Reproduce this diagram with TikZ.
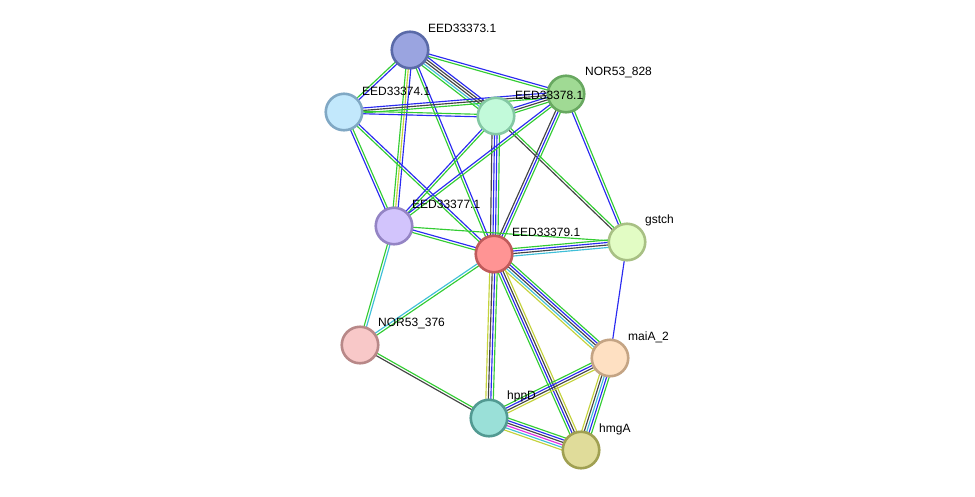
\documentclass[tikz,border=0pt]{standalone}
\usepackage{fontspec}
\setmainfont{Liberation Sans}
\usetikzlibrary{calc,backgrounds}
\definecolor{eG}{HTML}{33CC33}
\definecolor{eB}{HTML}{2A2AF0}
\definecolor{eK}{HTML}{444444}
\definecolor{eC}{HTML}{3FBFD8}
\definecolor{eY}{HTML}{C4D23C}
\definecolor{eM}{HTML}{E030E0}
\definecolor{f373}{HTML}{9AA4E0}\definecolor{d373}{HTML}{5A6AA8}
\definecolor{f828}{HTML}{A0DA94}\definecolor{d828}{HTML}{68A860}
\definecolor{f374}{HTML}{C2E8FC}\definecolor{d374}{HTML}{80A8C4}
\definecolor{f378}{HTML}{C2FADA}\definecolor{d378}{HTML}{84C8A4}
\definecolor{f377}{HTML}{D2C4FC}\definecolor{d377}{HTML}{9484C4}
\definecolor{f379}{HTML}{FF9494}\definecolor{d379}{HTML}{C05A5A}
\definecolor{fgst}{HTML}{E2FCC4}\definecolor{dgst}{HTML}{A8C084}
\definecolor{f376}{HTML}{F8C8C8}\definecolor{d376}{HTML}{B88888}
\definecolor{fmai}{HTML}{FEE0C2}\definecolor{dmai}{HTML}{C4A484}
\definecolor{fhpp}{HTML}{9AE0D8}\definecolor{dhpp}{HTML}{529A92}
\definecolor{fhmg}{HTML}{E0DC9A}\definecolor{dhmg}{HTML}{A0A052}
\newcommand\edg[3]{%
  \foreach \c [count=\i] in {#3} {\xdef\nn{\i}}%
  \foreach \c [count=\i] in {#3} {%
    \pgfmathsetmacro\off{(\i-(\nn+1)/2)*2.5}%
    \draw[\c, line width=1.15pt] ($(#1.center)!\off pt!90:(#2.center)$) -- ($(#2.center)!\off pt!-90:(#1.center)$);
  }}
\tikzset{
  prot/.style={circle, minimum size=36.5pt, inner sep=0pt, line width=2.6pt, fill=f#1, draw=d#1},
  lab/.style={font=\fontsize{12}{14}\selectfont, anchor=west, inner sep=0pt, text=black}
}
\begin{document}
\begin{tikzpicture}[x=1pt,y=-1pt]
\useasboundingbox (0,0) rectangle (975,496);
\node[prot=373] (n373) at (410,50) {};
\node[prot=828] (n828) at (566,94) {};
\node[prot=374] (n374) at (344,112) {};
\node[prot=378] (n378) at (496,116) {};
\node[prot=377] (n377) at (394,226) {};
\node[prot=379] (n379) at (494,254) {};
\node[prot=gst] (gst) at (627,242) {};
\node[prot=376] (n376) at (360,345) {};
\node[prot=mai] (mai) at (610,358) {};
\node[prot=hpp] (hpp) at (489,418) {};
\node[prot=hmg] (hmg) at (581,450) {};
\begin{scope}[on background layer]
\edg{n373}{n374}{eG,eB}
\edg{n373}{n377}{eG,eY,eB}
\edg{n373}{n378}{eG,eC,eK,eK,eB}
\edg{n373}{n828}{eG,eB}
\edg{n373}{n379}{eG,eB}
\edg{n374}{n828}{eG,eK,eB}
\edg{n374}{n378}{eB,eG}
\edg{n374}{n377}{eB,eG}
\edg{n374}{n379}{eG,eB}
\edg{n378}{n828}{eG,eK,eB}
\edg{n378}{n377}{eB,eG}
\edg{n378}{n379}{eK,eB,eB,eG}
\edg{n378}{gst}{eK,eG}
\edg{n828}{n379}{eK,eB,eG}
\edg{n828}{gst}{eB,eG}
\edg{n828}{n377}{eB,eG}
\edg{n377}{n379}{eG,eB}
\edg{n377}{gst}{eG}
\edg{n377}{n376}{eG,eC}
\edg{n379}{gst}{eC,eK,eB,eG}
\edg{n379}{n376}{eC,eG}
\edg{n379}{hpp}{eY,eK,eB,eG}
\edg{n379}{hmg}{eG,eB,eK,eY}
\edg{n379}{mai}{eY,eC,eK,eB,eG}
\edg{gst}{mai}{eB}
\edg{n376}{hpp}{eK,eG}
\edg{hpp}{mai}{eY,eK,eB,eG}
\edg{hpp}{hmg}{eY,eC,eM,eK,eB,eG}
\edg{mai}{hmg}{eY,eK,eC,eB,eG}
\end{scope}
\node[lab] (l373) at (428,28) {EED33373.1};
\node[lab] (l828) at (585,72) {NOR53\_828};
\node[lab] (l374) at (362,91) {EED33374.1};
\node[lab] (l378) at (515,95) {EED33378.1};
\node[lab] (l377) at (412,204) {EED33377.1};
\node[lab] (l379) at (512,232) {EED33379.1};
\node[lab] (lgst) at (645,220) {gstch};
\node[lab] (l376) at (378,323) {NOR53\_376};
\node[lab] (lmai) at (628,337) {maiA\_2};
\node[lab] (lhpp) at (507,396) {hppD};
\node[lab] (lhmg) at (599,429) {hmgA};
\end{tikzpicture}
\end{document}
